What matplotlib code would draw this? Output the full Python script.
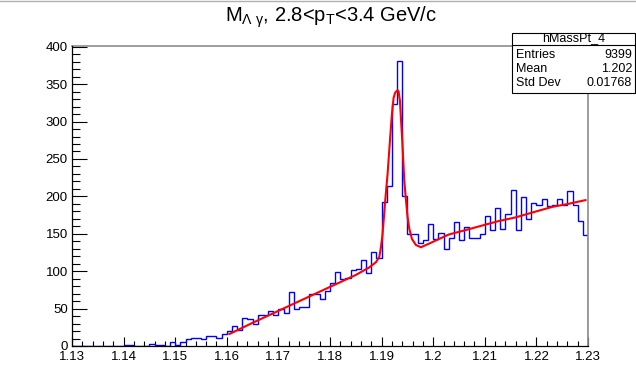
import matplotlib
matplotlib.use("Agg")
import matplotlib.pyplot as plt
import numpy as np
from matplotlib.lines import Line2D
from matplotlib.patches import Rectangle
from matplotlib.ticker import MultipleLocator

plt.rcParams['font.family'] = ['Liberation Sans', 'DejaVu Sans']
plt.rcParams['mathtext.fontset'] = 'custom'
plt.rcParams['mathtext.rm'] = 'Liberation Sans'
plt.rcParams['mathtext.it'] = 'Liberation Sans'

# ---- data ----
x_min, x_max = 1.13, 1.23
counts = [0, 0, 0, 0, 0, 0, 0, 0, 0, 0,
          1, 1, 0, 0, 0, 3, 1, 2, 0, 5,
          1, 5, 9, 11, 11, 9, 13, 13, 11, 16,
          20, 27, 22, 38, 36, 29, 41, 41, 47, 41,
          50, 44, 72, 49, 52, 52, 70, 70, 63, 74,
          84, 99, 89, 91, 101, 103, 115, 97, 125, 117,
          192, 214, 323, 381, 200, 150, 150, 138, 142, 163,
          143, 151, 130, 145, 166, 142, 159, 145, 145, 150,
          174, 155, 185, 157, 176, 208, 155, 199, 170, 191,
          188, 197, 187, 188, 197, 188, 207, 188, 167, 149]

fit_x = [1.1605, 1.165, 1.17, 1.175, 1.18, 1.185, 1.1876, 1.1889, 1.18955,
         1.18987, 1.19019, 1.19071, 1.19116, 1.19162, 1.192, 1.19233, 1.19265,
         1.1931, 1.1933, 1.19355, 1.19381, 1.19407, 1.19439, 1.19472, 1.19504,
         1.19536, 1.19588, 1.19665, 1.19762, 1.19924, 1.203, 1.2063, 1.21,
         1.2127, 1.216, 1.22, 1.2231, 1.2262, 1.2295]
fit_y = [16, 31, 47, 63, 79, 95, 105, 112, 119,
         132, 150, 195, 230, 275, 310, 332, 339,
         342, 340, 328, 297, 266, 221, 195, 172,
         157, 143, 135, 132, 137, 149, 155, 162,
         167, 172, 180, 186, 190, 195]

title = r'M$_{\mathregular{Λ\ γ}}$, 2.8<p$_{\mathregular{T}}$<3.4 GeV/c'
stats_name = 'hMassPt_4'
stats_rows = [('Entries', '9399'), ('Mean', '1.202'), ('Std Dev', '0.01768')]

# ---- figure ----
W, H = 636, 365
fig = plt.figure(figsize=(W / 100, H / 100), dpi=100)
ax = fig.add_axes([72 / W, (H - 346) / H, 516 / W, 300 / H])

edges = np.linspace(x_min, x_max, len(counts) + 1)
ax.stairs(counts, edges, color='#0000ff', lw=1.0, zorder=2)
ax.plot(fit_x, fit_y, color='#ff0000', lw=1.5, zorder=3)

ax.set_xlim(x_min, x_max)
ax.set_ylim(0, 401)

ax.xaxis.set_major_locator(MultipleLocator(0.01))
ax.xaxis.set_minor_locator(MultipleLocator(0.002))
ax.yaxis.set_major_locator(MultipleLocator(50))
ax.yaxis.set_minor_locator(MultipleLocator(10))
ax.xaxis.set_major_formatter(plt.FuncFormatter(
    lambda v, p: '1.2' if abs(v - 1.2) < 1e-9 else '%.2f' % v))

ax.tick_params(axis='x', which='major', direction='in', length=6.5, width=0.8, labelsize=9.5, pad=3.5, top=False)
ax.tick_params(axis='x', which='minor', direction='in', length=3.3, width=0.8, top=False)
ax.tick_params(axis='y', which='major', direction='in', length=11, width=0.8, labelsize=9.5, pad=3, right=False)
ax.tick_params(axis='y', which='minor', direction='in', length=5.5, width=0.8, right=False)

for s in ('left', 'bottom'):
    ax.spines[s].set_color('black')
    ax.spines[s].set_linewidth(0.9)
    ax.spines[s].set_zorder(5)
for s in ('top', 'right'):
    ax.spines[s].set_color('#8c8c8c')
    ax.spines[s].set_linewidth(1.2)

# title
fig.text(331 / W, 1 - 17 / H, title, ha='center', va='center', fontsize=14.5)

# stats box
bx0, by0, bx1, by1 = 512, 33, 635, 93
fig.add_artist(Rectangle((bx0 / W, 1 - by1 / H), (bx1 - bx0) / W, (by1 - by0) / H,
                         transform=fig.transFigure, facecolor='white', edgecolor='black', lw=0.8, zorder=10))
fig.add_artist(Line2D([bx0 / W, bx1 / W], [1 - 44.5 / H, 1 - 44.5 / H], transform=fig.transFigure,
                      color='black', lw=0.8, zorder=11))
fig.text((bx0 + bx1) / 2 / W, 1 - 38.5 / H, stats_name, ha='center', va='center', fontsize=9, zorder=12)
row_y = [55, 69, 83.5]
for (lab, val), ry in zip(stats_rows, row_y):
    fig.text(516 / W, 1 - ry / H, lab, ha='left', va='center', fontsize=9, zorder=12)
    fig.text(632 / W, 1 - ry / H, val, ha='right', va='center', fontsize=9, zorder=12)

# canvas top border line
fig.add_artist(Line2D([0, 1], [1 - 0.5 / H, 1 - 0.5 / H], transform=fig.transFigure, color='#b0b0b0', lw=1))

fig.savefig('out.png', dpi=100, facecolor='white')
